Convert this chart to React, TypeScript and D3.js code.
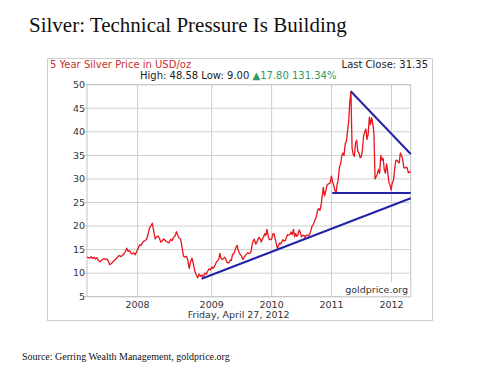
import React from 'react';
import * as d3 from 'd3';

// weekly closes (Fridays), Apr 27 2007 -> Apr 27 2012
const START = new Date(2007, 3, 27);
const PIVOT = new Date(2009, 0, 1);
const END = new Date(2012, 3, 27);

const prices2007 = [
  13.4,
  13.3, 13.2, 13.5, 13.1,
  13.4, 13.0, 13.3, 12.7, 12.4,
  12.7, 12.9, 13.1, 12.9,
  13.0, 12.6, 11.8, 12.0, 12.3,
  12.6, 12.9, 13.2, 13.6,
  13.7, 13.5, 13.8, 14.1,
  14.6, 15.3, 14.6, 14.8, 14.2,
  14.1, 14.3, 13.9, 14.6,
];
const prices2008 = [
  15.2, 16.0, 15.9, 16.4,
  16.8, 16.9, 17.2, 18.2, 19.6,
  20.0, 20.6, 18.9, 17.3,
  17.7, 17.9, 17.4, 16.6,
  16.8, 17.3, 17.0, 16.7, 16.5,
  16.5, 17.2, 16.9, 17.6,
  17.9, 18.8, 18.0, 17.4,
  17.2, 15.4, 13.6, 13.4, 13.6,
  12.8, 11.0, 12.4, 13.2,
  11.8, 10.4, 9.6, 9.0, 9.8,
  9.3, 9.6, 9.2, 10.0,
  9.8, 10.4, 10.9, 10.7,
];
const prices2009 = [
  11.3, 11.0, 11.3, 11.8, 12.4,
  12.6, 13.0, 14.2, 13.1,
  12.9, 13.0, 13.4, 13.1,
  12.3, 12.2, 12.3, 12.8,
  12.7, 14.0, 14.1, 14.7, 15.5,
  15.9, 14.8, 14.2, 13.9,
  13.5, 12.9, 13.3, 13.7, 14.0,
  14.3, 14.2, 14.2, 14.5,
  16.0, 16.9, 17.2, 16.2,
  16.4, 17.2, 17.6, 17.3, 16.6,
  17.3, 17.7, 18.4, 18.0,
  19.3, 17.9, 17.1, 17.1,
];
const prices2010 = [
  17.2, 18.3, 18.4, 17.4, 16.3,
  15.3, 15.8, 16.4, 16.2,
  16.7, 17.1, 16.8, 17.0,
  17.6, 18.2, 18.1, 18.2, 18.7,
  18.2, 19.3, 17.7, 18.4,
  17.8, 18.2, 19.2, 18.6,
  17.7, 18.0, 18.0, 17.6, 18.0,
  18.1, 17.9, 18.2, 18.9,
  19.9, 20.2, 20.8, 21.5,
  22.0, 23.4, 23.7, 23.3, 24.4,
  26.3, 28.2, 26.4, 27.3,
  28.5, 28.9, 29.0, 29.2, 30.6,
];
const prices2011 = [
  29.4, 28.6, 27.6, 27.0,
  28.8, 30.0, 32.5, 33.2,
  34.8, 35.5, 35.0, 37.5,
  37.9, 40.0, 42.1, 46.3, 48.6,
  36.5, 35.2, 34.8, 37.6,
  38.2, 35.8, 35.5, 34.5,
  34.7, 36.2, 39.1, 40.0, 40.6,
  38.4, 39.5, 43.1, 41.5,
  43.0, 41.8, 39.6, 30.0, 30.5,
  31.0, 32.0, 31.2, 35.0,
  34.0, 34.4, 32.0, 31.2,
  33.2, 31.5, 29.3, 28.7, 27.6,
];
const prices2012 = [
  29.2, 29.7, 32.0, 33.9,
  34.0, 33.6, 33.4, 35.5,
  35.0, 34.2, 32.4, 32.3, 32.5,
  32.3, 31.3, 31.5, 31.35,
];

const silverPrices = [...prices2007, ...prices2008, ...prices2009, ...prices2010, ...prices2011, ...prices2012];
const weeks = silverPrices.map((_, i) => d3.timeDay.offset(START, 7 * i));

const yearTicks = [2008, 2009, 2010, 2011, 2012];
const priceTicks = [5, 10, 15, 20, 25, 30, 35, 40, 45, 50];

// hand-drawn trend lines
const supportLine: [Date, number][] = [[new Date(2008, 10, 12), 8.8], [END, 25.9]];
const floorLine: [Date, number][] = [[new Date(2011, 0, 5), 27.0], [END, 27.0]];
const resistanceLine: [Date, number][] = [[new Date(2011, 3, 28), 48.6], [END, 35.3]];

const W = 490;
const H = 367;
const plot = { left: 87, right: 410.7, top: 84.7, bottom: 296.7 };
const FONT = 'DejaVu Sans, Verdana, sans-serif';

export default function App() {
  const x = d3.scaleTime()
    .domain([START, PIVOT, END])
    .range([plot.left, 211.7, plot.right]);
  const y = d3.scaleLinear().domain([5, 50]).range([plot.bottom, plot.top]);

  const line = d3.line<[Date, number]>()
    .x(d => x(d[0]))
    .y(d => y(d[1]));

  const series: [Date, number][] = weeks.map((d, i) => [d, silverPrices[i]]);

  return (
    <svg width={W} height={H} style={{ position: 'absolute', left: 0, top: 0, background: '#fff' }}>
      <text x={29} y={32} fontFamily="Liberation Serif, Times New Roman, serif" fontSize={21} fill="#111">
        Silver: Technical Pressure Is Building
      </text>

      <rect x={47.5} y={58.5} width={385} height={262} fill="#fff" stroke="#ccc" />

      <text x={50} y={68} fontFamily={FONT} fontSize={10} fill="#c8322f">5 Year Silver Price in USD/oz</text>
      <text x={428} y={68} fontFamily={FONT} fontSize={10} fill="#222" textAnchor="end">Last Close: 31.35</text>
      <text x={140} y={78.5} fontFamily={FONT} fontSize={10} fill="#222">
        High: 48.58 Low: 9.00 <tspan fill="#2e9a5c">▲17.80 131.34%</tspan>
      </text>

      {/* grid */}
      {priceTicks.map(t => (
        <line key={'h' + t} x1={plot.left - 3} x2={plot.right} y1={y(t)} y2={y(t)} stroke="#cfcfcf" />
      ))}
      {yearTicks.map(t => (
        <line key={'v' + t} x1={x(new Date(t, 0, 1))} x2={x(new Date(t, 0, 1))} y1={plot.top} y2={plot.bottom} stroke="#cfcfcf" />
      ))}
      <rect x={plot.left} y={plot.top} width={plot.right - plot.left} height={plot.bottom - plot.top} fill="none" stroke="#c4c4c4" />

      <rect x={343} y={282} width={plot.right - 343 - 0.5} height={plot.bottom - 282 - 0.5} fill="#fff" />
      <text x={408} y={293} fontFamily={FONT} fontSize={9.5} fill="#333" textAnchor="end">goldprice.org</text>

      <path d={line(series) || ''} fill="none" stroke="#e8151c" strokeWidth={1.3} strokeLinejoin="round" />

      {[supportLine, floorLine, resistanceLine].map((l, i) => (
        <path key={i} d={line(l) || ''} fill="none" stroke="#2323a8" strokeWidth={2} />
      ))}

      {priceTicks.map(t => (
        <text key={'yl' + t} x={85} y={y(t)} dy="0.35em" fontFamily={FONT} fontSize={9.5} fill="#333" textAnchor="end">{t}</text>
      ))}
      {yearTicks.map(t => (
        <text key={'xl' + t} x={x(new Date(t, 0, 1))} y={308} fontFamily={FONT} fontSize={9.5} fill="#333" textAnchor="middle">{t}</text>
      ))}
      <text x={238.7} y={317.5} fontFamily={FONT} fontSize={9.5} fill="#333" textAnchor="middle">Friday, April 27, 2012</text>

      <text x={22} y={360} fontFamily="Liberation Serif, Times New Roman, serif" fontSize={10} fill="#111">
        Source: Gerring Wealth Management, goldprice.org
      </text>
    </svg>
  );
}
